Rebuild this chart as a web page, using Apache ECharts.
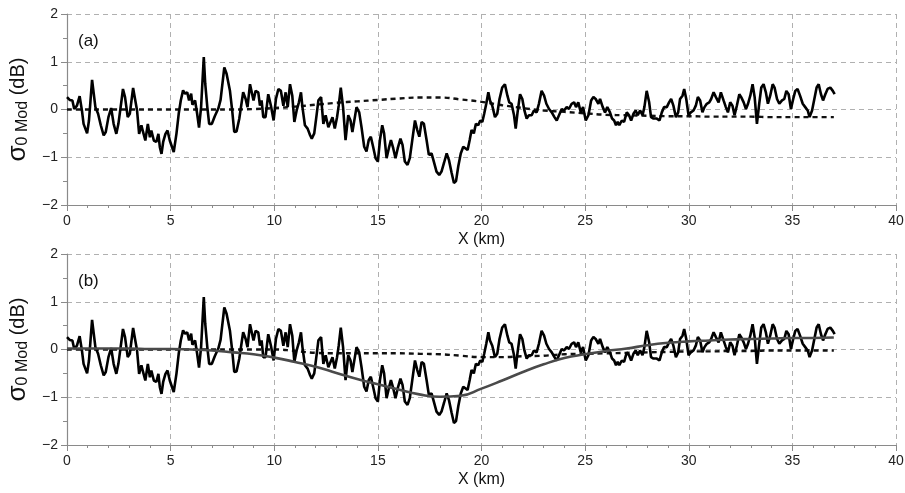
<!DOCTYPE html>
<html>
<head>
<meta charset="utf-8">
<script src="https://cdn.jsdelivr.net/npm/echarts@6/dist/echarts.min.js"></script>
<style>
html, body { margin: 0; background: #fff; }
#chart { width: 905px; height: 493px; }
</style>
</head>
<body>
<div id="chart"></div>
<script>
// measured profile, distance (km) and sigma0 modulation (dB)
var obsKm = [
  0, 0.13, 0.26, 0.35, 0.48, 0.61, 0.72, 0.8, 0.97, 1.06, 1.21, 1.37, 1.5, 1.63, 1.77, 1.87, 2.0, 2.13, 2.25, 2.38,
  2.48, 2.64, 2.7, 2.8, 2.93, 3.03, 3.19, 3.25, 3.38, 3.48, 3.59, 3.67, 3.78, 3.9, 4.0, 4.07, 4.19, 4.31, 4.41, 4.48,
  4.56, 4.64, 4.75, 4.85, 4.96, 5.07, 5.15, 5.28, 5.39, 5.49, 5.6, 5.7, 5.8, 5.89, 5.99, 6.05, 6.18, 6.28, 6.37, 6.47,
  6.6, 6.67, 6.77, 6.86, 6.99, 7.13, 7.3, 7.41, 7.59, 7.7, 7.86, 7.97, 8.07, 8.18, 8.31, 8.5, 8.62, 8.71, 8.83, 8.91,
  9.0, 9.1, 9.23, 9.31, 9.39, 9.47, 9.58, 9.71, 9.84, 9.97, 10.08, 10.2, 10.32, 10.44, 10.55, 10.65, 10.76, 10.87, 10.97, 11.08,
  11.19, 11.29, 11.36, 11.48, 11.61, 11.73, 11.81, 11.93, 12.05, 12.13, 12.26, 12.37, 12.48, 12.61, 12.81, 12.92, 13.03, 13.11, 13.21, 13.32,
  13.44, 13.57, 13.68, 13.77, 13.89, 13.97, 14.1, 14.21, 14.34, 14.45, 14.56, 14.66, 14.77, 14.89, 15.0, 15.1, 15.21, 15.3, 15.42, 15.53,
  15.63, 15.74, 15.85, 15.96, 16.09, 16.19, 16.3, 16.43, 16.54, 16.66, 16.79, 16.9, 17.0, 17.11, 17.22, 17.35, 17.46, 17.59, 17.7, 17.83,
  17.96, 18.07, 18.19, 18.32, 18.43, 18.56, 18.67, 18.77, 18.88, 19.0, 19.12, 19.2, 19.33, 19.43, 19.52, 19.63, 19.73, 19.84, 19.94, 20.04,
  20.13, 20.23, 20.33, 20.41, 20.52, 20.65, 20.76, 20.87, 21.0, 21.13, 21.25, 21.34, 21.45, 21.57, 21.65, 21.74, 21.86, 21.97, 22.07, 22.18,
  22.29, 22.42, 22.53, 22.66, 22.77, 22.9, 23.02, 23.13, 23.26, 23.39, 23.52, 23.63, 23.74, 23.87, 23.98, 24.11, 24.22, 24.35, 24.47, 24.56,
  24.67, 24.79, 24.9, 25.03, 25.16, 25.29, 25.4, 25.51, 25.64, 25.72, 25.85, 25.96, 26.07, 26.2, 26.3, 26.4, 26.49, 26.57, 26.65, 26.77,
  26.88, 27.01, 27.12, 27.22, 27.33, 27.44, 27.54, 27.65, 27.77, 27.86, 27.97, 28.09, 28.18, 28.3, 28.46, 28.59, 28.7, 28.81, 28.94, 29.05,
  29.15, 29.26, 29.38, 29.49, 29.58, 29.7, 29.78, 29.88, 29.99, 30.1, 30.23, 30.34, 30.44, 30.55, 30.66, 30.76, 30.87, 30.99, 31.08, 31.2,
  31.31, 31.44, 31.55, 31.68, 31.79, 31.89, 32.0, 32.11, 32.21, 32.32, 32.44, 32.53, 32.65, 32.76, 32.86, 32.97, 33.08, 33.18, 33.29, 33.4,
  33.5, 33.61, 33.72, 33.82, 33.93, 34.05, 34.14, 34.26, 34.37, 34.5, 34.61, 34.71, 34.82, 34.93, 35.04, 35.14, 35.25, 35.37, 35.5, 35.62,
  35.74, 35.83, 35.95, 36.06, 36.17, 36.27, 36.38, 36.48, 36.59, 36.7, 36.83, 36.95, 37.04
];
var obsDb = [
  0.26, 0.2, 0.19, 0.01, 0.08, 0.28, -0.02, -0.3, -0.5, -0.23, 0.62, 0.05, -0.09, -0.33, -0.54, -0.47, -0.16, 0.03, -0.3, -0.51,
  -0.3, 0.22, 0.43, 0.26, -0.16, -0.09, 0.45, 0.47, -0.02, -0.51, -0.33, -0.47, -0.65, -0.3, -0.58, -0.44, -0.65, -0.68, -0.51, -0.79,
  -0.93, -0.68, -0.51, -0.44, -0.65, -0.79, -0.89, -0.51, -0.09, 0.19, 0.4, 0.33, 0.36, 0.19, 0.33, 0.1, 0.19, -0.09, -0.38, 0.05,
  1.1, 0.54, 0.05, -0.3, -0.3, -0.14, 0.02, 0.2, 0.88, 0.75, 0.4, -0.02, -0.47, -0.46, -0.2, 0.36, 0.22, 0.05, 0.53, 0.5,
  0.19, 0.39, 0.36, 0.08, 0.19, -0.16, -0.16, 0.32, 0.08, -0.23, 0.22, 0.43, 0.39, 0.08, 0.36, 0.05, 0.53, 0.29, -0.26, -0.02,
  0.15, 0.36, 0.05, -0.33, -0.4, -0.54, -0.61, -0.5, -0.09, 0.19, 0.26, -0.3, -0.12, -0.37, -0.16, -0.4, -0.16, 0.08, 0.46, 0.05,
  -0.64, -0.12, -0.23, -0.47, -0.16, 0.05, -0.06, -0.37, -0.78, -0.88, -0.64, -0.57, -0.78, -1.02, -1.09, -0.64, -0.33, -0.5, -1.02, -0.81,
  -0.64, -0.81, -1.02, -0.81, -0.61, -0.74, -1.09, -1.16, -1.02, -0.64, -0.23, -0.43, -0.57, -0.26, -0.3, -0.64, -0.95, -0.92, -1.09, -1.3,
  -1.37, -1.3, -1.12, -0.92, -1.06, -1.33, -1.54, -1.5, -1.19, -0.92, -0.78, -0.78, -0.85, -0.64, -0.43, -0.5, -0.3, -0.33, -0.23, -0.26,
  -0.09, 0.12, 0.36, 0.19, 0.08, -0.16, -0.09, 0.22, 0.46, 0.53, 0.29, 0.15, 0.12, -0.12, -0.4, -0.06, 0.32, 0.22, -0.02, -0.19,
  -0.12, -0.12, -0.02, -0.06, 0.12, 0.39, 0.29, 0.12, 0.01, -0.06, -0.16, -0.23, -0.12, 0.01, -0.02, 0.05, 0.01, 0.12, 0.15, 0.05,
  0.15, -0.06, 0.05, -0.23, -0.12, 0.19, 0.26, 0.22, 0.12, 0.22, 0.05, -0.06, 0.05, -0.06, -0.19, -0.23, -0.33, -0.26, -0.33, -0.23,
  -0.26, -0.06, -0.12, -0.23, -0.09, -0.02, -0.12, -0.02, -0.12, 0.05, 0.39, 0.15, -0.16, -0.19, -0.19, -0.23, -0.06, 0.05, 0.05, 0.15,
  0.22, 0.08, -0.16, -0.06, 0.22, 0.29, 0.43, 0.22, -0.12, -0.06, -0.02, 0.08, 0.26, 0.19, -0.06, 0.05, 0.12, 0.15, 0.22, 0.36,
  0.26, 0.15, 0.36, 0.19, 0.05, -0.06, 0.15, 0.08, -0.12, 0.08, 0.32, 0.26, 0.15, 0.01, 0.12, 0.29, 0.53, 0.26, -0.3, 0.12,
  0.46, 0.53, 0.36, 0.12, 0.29, 0.53, 0.46, 0.22, 0.12, 0.19, 0.22, 0.39, 0.32, 0.01, 0.22, 0.39, 0.43, 0.29, 0.12, 0.05,
  -0.02, -0.16, -0.02, 0.22, 0.46, 0.53, 0.32, 0.19, 0.32, 0.43, 0.46, 0.39, 0.32
];

// model curves on a 1 km grid
var modelKm = [0, 1, 2, 3, 4, 5, 6, 7, 8, 9, 10, 11, 12, 13, 14, 15, 16, 17, 18, 19, 20,
  21, 22, 23, 24, 25, 26, 27, 28, 29, 30, 31, 32, 33, 34, 35, 36, 37];
var modelA = [0, 0, 0, 0, 0, 0, 0, 0, 0, 0.01, 0.03, 0.06, 0.1, 0.14, 0.17, 0.2, 0.23, 0.25, 0.25, 0.21, 0.16,
  0.09, 0.03, -0.02, -0.05, -0.08, -0.11, -0.12, -0.13, -0.14, -0.14, -0.15, -0.15, -0.15, -0.16, -0.16, -0.16, -0.16];
var modelB = [0, 0, 0, 0, 0, 0, 0, 0, 0, 0, 0, -0.03, -0.07, -0.08, -0.08, -0.08, -0.08, -0.09, -0.1, -0.13, -0.16,
  -0.16, -0.14, -0.13, -0.1, -0.09, -0.08, -0.07, -0.06, -0.05, -0.04, -0.04, -0.03, -0.03, -0.02, -0.02, -0.02, -0.02];
var fitB = [0.02, 0.02, 0.02, 0.02, 0.01, 0.01, 0, -0.02, -0.06, -0.1, -0.17, -0.26, -0.36, -0.49, -0.62, -0.73, -0.84, -0.94, -0.99, -0.97, -0.82,
  -0.65, -0.47, -0.31, -0.18, -0.1, -0.03, 0.02, 0.09, 0.14, 0.17, 0.19, 0.21, 0.22, 0.23, 0.24, 0.24, 0.25];

var panelLabels = ['(a)', '(b)'];

function zip(xs, ys) {
  return xs.map(function (x, i) { return [x, ys[i]]; });
}

var FONT = 'Liberation Sans, Arial, sans-serif';
var axisGray = '#8a8a8a';
var gridGray = '#b0b0b0';

function makeX(i) {
  return {
    type: 'value', gridIndex: i, min: 0, max: 40, interval: 5,
    name: 'X (km)', nameLocation: 'middle', nameGap: 27,
    nameTextStyle: { fontSize: 16, color: '#111', fontFamily: FONT },
    axisLine: { show: true, onZero: false, lineStyle: { color: axisGray, width: 1.2 } },
    axisTick: { show: true, length: 6, lineStyle: { color: axisGray } },
    minorTick: { show: true, splitNumber: 5, length: 3, lineStyle: { color: axisGray } },
    axisLabel: { fontSize: 14, color: '#222', margin: 9, fontFamily: FONT },
    splitLine: { show: true, lineStyle: { type: [5, 4], color: gridGray, width: 1 } }
  };
}

function makeY(i) {
  return {
    type: 'value', gridIndex: i, min: -2, max: 2, interval: 1,
    name: '{s|σ}{sub|0 Mod}{n| (dB)}', nameLocation: 'middle', nameGap: 33, nameRotate: 90,
    nameTextStyle: {
      color: '#111', fontFamily: FONT,
      rich: {
        s: { fontSize: 26, lineHeight: 24, fontFamily: FONT, color: '#111' },
        sub: { fontSize: 16, lineHeight: 15, verticalAlign: 'bottom', fontFamily: FONT, color: '#111' },
        n: { fontSize: 20, lineHeight: 24, fontFamily: FONT, color: '#111' }
      }
    },
    axisLine: { show: true, onZero: false, lineStyle: { color: axisGray, width: 1.2 } },
    axisTick: { show: true, length: 6, lineStyle: { color: axisGray } },
    minorTick: { show: true, splitNumber: 2, length: 4, lineStyle: { color: axisGray } },
    axisLabel: {
      fontSize: 14, color: '#222', margin: 9, fontFamily: FONT,
      formatter: function (v) { return String(v).replace('-', '\u2212'); }
    },
    splitLine: { show: true, lineStyle: { type: [5, 4], color: gridGray, width: 1 } }
  };
}

function line(name, data, i, style, smooth) {
  return {
    name: name, type: 'line', xAxisIndex: i, yAxisIndex: i,
    data: data, showSymbol: false, smooth: !!smooth, silent: true,
    lineStyle: style
  };
}

var chart = echarts.init(document.getElementById('chart'));
chart.setOption({
  animation: false,
  backgroundColor: '#fff',
  grid: [
    { left: 67, right: 9, top: 14, height: 191, outerBoundsMode: 'none' },
    { left: 67, right: 9, top: 254, height: 191, outerBoundsMode: 'none' }
  ],
  xAxis: [makeX(0), makeX(1)],
  yAxis: [makeY(0), makeY(1)],
  graphic: [
    { type: 'text', left: 78, top: 33, style: { text: panelLabels[0], fontSize: 17, fill: '#111', fontFamily: FONT } },
    { type: 'text', left: 78, top: 273, style: { text: panelLabels[1], fontSize: 17, fill: '#111', fontFamily: FONT } }
  ],
  series: [
    line('model a', zip(modelKm, modelA), 0, { color: '#111', width: 2.4, type: [5, 4] }, true),
    line('observed a', zip(obsKm, obsDb), 0, { color: '#000', width: 2.6 }),
    line('model b', zip(modelKm, modelB), 1, { color: '#111', width: 2.4, type: [5, 4] }, true),
    line('observed b', zip(obsKm, obsDb), 1, { color: '#000', width: 2.6 }),
    line('fit b', zip(modelKm, fitB), 1, { color: '#4a4a4a', width: 2.6 }, true)
  ]
});
</script>
</body>
</html>
